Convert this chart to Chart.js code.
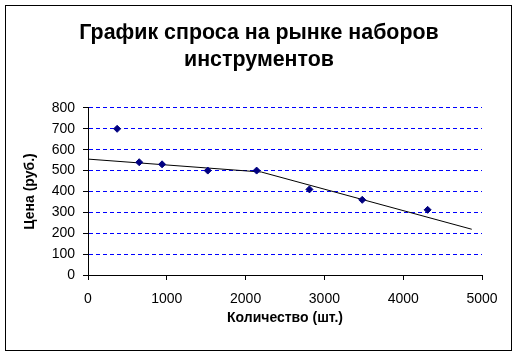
<!DOCTYPE html>
<html>
<head>
<meta charset="utf-8">
<script src="https://cdn.jsdelivr.net/npm/chart.js@4"></script>
<style>
  html, body { margin: 0; padding: 0; background: #fff; }
  #wrap { width: 518px; height: 356px; }
</style>
</head>
<body>
<div id="wrap"><canvas id="chart" width="518" height="356"></canvas></div>
<script>
// Observed points (quantity, price)
const quantity = [370, 650, 940, 1520, 2140, 2810, 3480, 4310];
const price = [700, 540, 530, 500, 500, 410, 360, 312];

// Trend line vertices
const trendX = [0, 2200, 4870];
const trendY = [555, 493, 219];

const titleLines = ['График спроса на рынке наборов', 'инструментов'];
const xTitle = 'Количество (шт.)';
const yTitle = 'Цена (руб.)';

const font = 'Arial, "Liberation Sans", sans-serif';

// white background + frame
const frame = {
    id: 'frame',
    beforeDraw(chart) {
        const ctx = chart.ctx;
        ctx.save();
        ctx.fillStyle = '#fff';
        ctx.fillRect(0, 0, chart.width, chart.height);
        ctx.strokeStyle = '#000';
        ctx.lineWidth = 1;
        ctx.strokeRect(5.5, 5.5, 506, 345);
        ctx.restore();
    },
    // center the title over the whole canvas, not just the padded area
    afterLayout(chart) {
        const t = chart.titleBlock;
        if (t) {
            t.left = 0;
            t.right = chart.width;
            t.width = chart.width;
        }
    }
};

new Chart(document.getElementById('chart'), {
    type: 'scatter',
    data: {
        datasets: [
            {
                label: 'Спрос',
                data: quantity.map((q, i) => ({ x: q, y: price[i] })),
                pointStyle: 'rectRot',
                pointRadius: 3.5,
                backgroundColor: '#000080',
                borderColor: '#000080',
                borderWidth: 1
            },
            {
                label: 'Тренд',
                type: 'line',
                data: trendX.map((q, i) => ({ x: q, y: trendY[i] })),
                borderColor: '#000',
                borderWidth: 1,
                pointRadius: 0,
                fill: false,
                tension: 0
            }
        ]
    },
    options: {
        responsive: false,
        animation: false,
        layout: { padding: { left: 0, right: 36, top: 0, bottom: 0 } },
        plugins: {
            legend: { display: false },
            tooltip: { enabled: false },
            title: {
                display: true,
                text: titleLines,
                color: '#000',
                font: { family: font, size: 21.4, weight: 'bold', lineHeight: 1.26 },
                padding: { top: 20, bottom: 34 }
            }
        },
        scales: {
            x: {
                type: 'linear',
                min: 0,
                max: 5000,
                ticks: {
                    stepSize: 1000,
                    color: '#000',
                    font: { family: font, size: 14 },
                    padding: 11,
                    maxRotation: 0,
                    callback: v => String(v)
                },
                grid: { drawOnChartArea: false, drawTicks: true, tickLength: 5, tickColor: '#000', color: '#000' },
                border: { color: '#000', width: 1 },
                title: { display: true, text: xTitle, color: '#000', font: { family: font, size: 14, weight: 'bold' }, padding: { top: 4, bottom: 29 } },
                afterFit(scale) { scale.height = 81; }
            },
            y: {
                min: 0,
                max: 800,
                ticks: { stepSize: 100, color: '#000', font: { family: font, size: 14 }, padding: 8, callback: v => String(v) },
                grid: { color: '#0000ff', lineWidth: 1, tickLength: 5, tickColor: '#000', tickBorderDash: [] },
                border: { color: '#000', width: 1, dash: [4, 3] },
                title: { display: true, text: yTitle, color: '#000', font: { family: font, size: 14, weight: 'bold' }, padding: { top: 22, bottom: 4 } },
                afterFit(scale) { scale.width = 88; }
            }
        }
    },
    plugins: [frame]
});
</script>
</body>
</html>
